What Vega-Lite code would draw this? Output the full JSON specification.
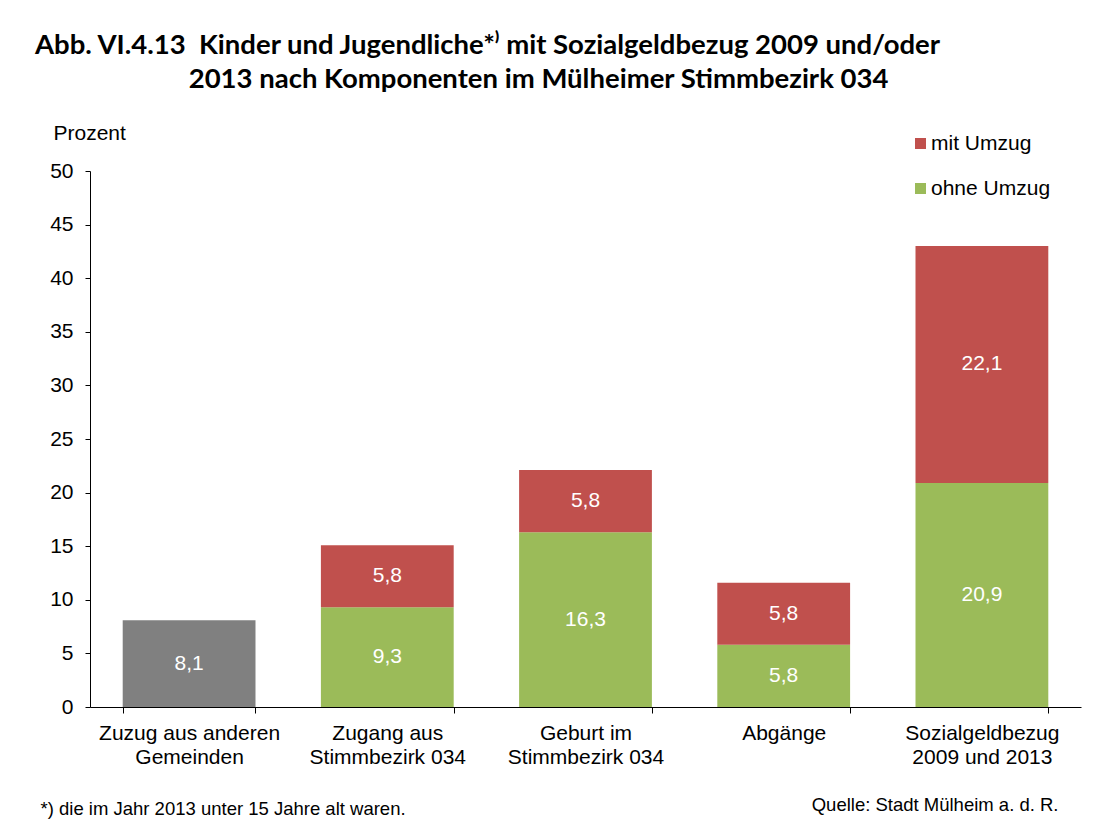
{
  "$schema": "https://vega.github.io/schema/vega-lite/v6.json",
  "width": 991,
  "height": 536,
  "autosize": {"type": "none"},
  "padding": {"left": 90, "top": 171, "right": 13, "bottom": 124},
  "background": "#FFFFFF",
  "config": {
    "locale": {"number": {"decimal": ",", "thousands": ".", "grouping": [3], "currency": ["", " €"]}},
    "view": {"stroke": null},
    "font": "Liberation Sans"
  },
  "title": {
    "text": ["Abb. VI.4.13\u00a0 Kinder und Jugendliche*⁾ mit Sozialgeldbezug 2009 und/oder", "\u200b\u00a0\u00a0\u00a0\u00a0\u00a0\u00a0\u00a0\u00a0\u00a0\u00a0\u00a0\u00a0\u00a0\u00a0\u00a0\u00a0\u00a0\u00a0\u00a0\u00a0\u00a0\u00a0\u00a02013 nach Komponenten im Mülheimer Stimmbezirk 034"],
    "anchor": "start",
    "frame": "group",
    "align": "left",
    "dx": -55,
    "dy": -9,
    "font": "Lato",
    "fontSize": 27.5,
    "fontWeight": "bold",
    "lineHeight": 34,
    "color": "#000000",
    "offset": 20
  },
  "data": {
    "values": [
      {"kategorie": "Zuzug aus anderen Gemeinden", "komponente": "gesamt", "wert": 8.1},
      {"kategorie": "Zugang aus Stimmbezirk 034", "komponente": "ohne Umzug", "wert": 9.3},
      {"kategorie": "Zugang aus Stimmbezirk 034", "komponente": "mit Umzug", "wert": 5.8},
      {"kategorie": "Geburt im Stimmbezirk 034", "komponente": "ohne Umzug", "wert": 16.3},
      {"kategorie": "Geburt im Stimmbezirk 034", "komponente": "mit Umzug", "wert": 5.8},
      {"kategorie": "Abgänge", "komponente": "ohne Umzug", "wert": 5.8},
      {"kategorie": "Abgänge", "komponente": "mit Umzug", "wert": 5.8},
      {"kategorie": "Sozialgeldbezug 2009 und 2013", "komponente": "ohne Umzug", "wert": 20.9},
      {"kategorie": "Sozialgeldbezug 2009 und 2013", "komponente": "mit Umzug", "wert": 22.1}
    ]
  },
  "transform": [
    {"stack": "wert", "groupby": ["kategorie"], "sort": [{"field": "komponente", "order": "descending"}], "as": ["y0", "y1"]},
    {"calculate": "(datum.y0 + datum.y1) / 2", "as": "mitte"}
  ],
  "encoding": {
    "x": {
      "field": "kategorie",
      "type": "nominal",
      "sort": null,
      "scale": {"paddingInner": 0.33, "paddingOuter": 0.165},
      "axis": {
        "title": "*) die im Jahr 2013 unter 15 Jahre alt waren.",
        "titleX": -50,
        "titleY": 101,
        "titleAlign": "left",
        "titleAnchor": null,
        "titleBaseline": "middle",
        "titleFont": "Liberation Sans",
        "titleFontSize": 18.5,
        "titleFontWeight": "normal",
        "titleColor": "#000000",
        "labelAngle": 0,
        "labelFontSize": 21,
        "labelColor": "#000000",
        "labelLineHeight": 24,
        "labelPadding": 9,
        "labelBaseline": "top",
        "labelExpr": "datum.value == 'Zuzug aus anderen Gemeinden' ? ['Zuzug aus anderen', 'Gemeinden'] : datum.value == 'Zugang aus Stimmbezirk 034' ? ['Zugang aus', 'Stimmbezirk 034'] : datum.value == 'Geburt im Stimmbezirk 034' ? ['Geburt im', 'Stimmbezirk 034'] : datum.value == 'Sozialgeldbezug 2009 und 2013' ? ['Sozialgeldbezug', '2009 und 2013'] : datum.value",
        "tickBand": "extent",
        "tickSize": 6,
        "tickColor": "#000000",
        "domainColor": "#000000",
        "labelLimit": 300
      }
    }
  },
  "layer": [
    {
      "mark": {"type": "bar"},
      "encoding": {
        "y": {
          "field": "y1",
          "type": "quantitative",
          "scale": {"domain": [0, 50], "nice": false},
          "axis": {
            "title": "Prozent",
            "titleAngle": 0,
            "titleX": -37,
            "titleY": -38,
            "titleAlign": "left",
            "titleAnchor": null,
            "titleBaseline": "middle",
            "titleFontSize": 21,
            "titleFontWeight": "normal",
            "titleColor": "#000000",
            "values": [0, 5, 10, 15, 20, 25, 30, 35, 40, 45, 50],
            "format": "d",
            "grid": false,
            "labelFontSize": 21,
            "labelColor": "#000000",
            "labelPadding": 12,
            "tickSize": 5,
            "tickColor": "#000000",
            "domainColor": "#000000"
          }
        },
        "y2": {"field": "y0"},
        "color": {
          "field": "komponente",
          "type": "nominal",
          "scale": {"domain": ["mit Umzug", "ohne Umzug", "gesamt"], "range": ["#C0504D", "#9BBB59", "#808080"]},
          "legend": {
            "values": ["mit Umzug", "ohne Umzug"],
            "title": null,
            "orient": "none",
            "legendX": 820,
            "legendY": -38,
            "padding": 0,
            "symbolType": "square",
            "symbolSize": 121,
            "symbolStrokeWidth": 0,
            "labelFontSize": 21,
            "labelColor": "#000000",
            "labelOffset": 0,
            "rowPadding": 23
          }
        }
      }
    },
    {
      "mark": {"type": "text", "color": "#FFFFFF", "fontSize": 21, "baseline": "middle", "align": "center"},
      "encoding": {
        "y": {
          "field": "mitte",
          "type": "quantitative",
          "axis": {
            "orient": "right",
            "title": "Quelle: Stadt Mülheim a. d. R.",
            "titleAngle": 0,
            "titleX": -23,
            "titleY": 633,
            "titleAlign": "right",
            "titleAnchor": null,
            "titleBaseline": "middle",
            "titleFontSize": 18.5,
            "titleFontWeight": "normal",
            "titleColor": "#000000",
            "labels": false,
            "ticks": false,
            "domain": false,
            "grid": false
          }
        },
        "text": {"field": "wert", "type": "quantitative", "format": ".1f"}
      }
    }
  ],
  "resolve": {"axis": {"y": "independent"}}
}
